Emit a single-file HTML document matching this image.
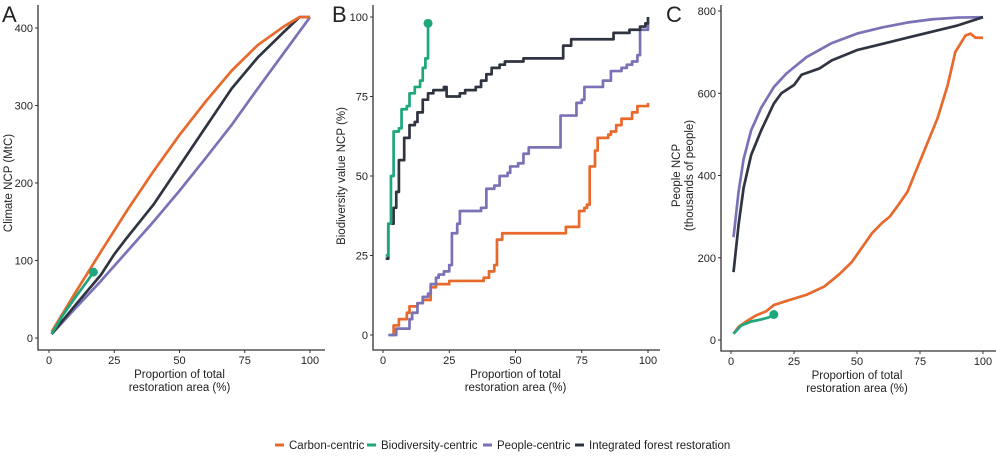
<!DOCTYPE html>
<html><head><meta charset="utf-8"><style>
body{margin:0;background:#fff;font-family:"Liberation Sans",sans-serif}
svg{display:block}
text{font-family:"Liberation Sans",sans-serif;fill:#222}
</style></head><body>
<svg id="c" width="996" height="456"></svg>
<script>
const xTicks=[0,25,50,75,100];
const aTicks=[0,100,200,300,400];
const bTicks=[0,25,50,75,100];
const cTicks=[0,200,400,600,800];
// Panel A
const aCarbon=[[1,8],[10,58],[20,112],[30,165],[40,215],[50,262],[60,305],[70,345],[80,378],[90,402],[96,414],[100,414]];
const aBio=[[1,5],[5,28],[10,52],[15,75],[17,85]];
const aPeople=[[1,5],[10,38],[20,74],[30,112],[40,150],[50,190],[60,232],[70,275],[80,322],[90,368],[100,414]];
const aInt=[[1,5],[10,42],[20,82],[25,108],[30,130],[40,172],[50,222],[60,272],[70,322],[80,362],[90,395],[96,414],[100,414]];
// Panel B
const bCarbon=[[3,0],[4,3],[6,5],[9,7],[10,9],[13,10],[15,11],[18,15],[20,16],[25,17],[38,18],[40,20],[42,22],[43,30],[45,32],[67,32],[69,34],[73,34],[74,39],[76,40],[77,41],[78,53],[80,58],[81,62],[85,63],[86,64],[88,66],[90,68],[94,70],[96,72],[99,72],[100,73]];
const bBio=[[1,25],[2,35],[3,50],[4,64],[6,65],[7,71],[9,72],[10,76],[12,78],[14,80],[15,84],[16,87],[17,98]];
const bPeople=[[2,0],[4,0],[5,2],[9,2],[10,5],[11,7],[13,10],[15,12],[17,13],[18,16],[20,18],[21,19],[23,20],[25,22],[26,32],[28,35],[29,39],[37,40],[39,46],[42,47],[44,50],[47,51],[48,53],[51,54],[53,57],[55,59],[66,59],[67,69],[72,69],[73,73],[75,74],[76,78],[81,78],[83,80],[86,83],[90,84],[92,85],[94,86],[96,88],[97,96],[100,98]];
const bInt=[[1,24],[2,35],[4,40],[5,45],[6,55],[8,62],[10,66],[12,67],[13,70],[15,74],[17,76],[19,77],[22,77],[23,78],[24,75],[29,76],[31,77],[35,78],[37,80],[39,82],[41,84],[44,85],[46,86],[51,86],[53,87],[67,87],[68,91],[70,91],[71,93],[86,93],[87,95],[92,95],[93,96],[97,97],[99,98],[100,100]];
// Panel C
const cCarbon=[[1,15],[3,32],[6,45],[10,60],[14,70],[17,85],[22,95],[30,110],[37,130],[43,160],[48,190],[52,225],[56,260],[60,285],[63,300],[66,325],[70,360],[74,420],[78,480],[82,540],[86,620],[89,700],[93,740],[95,745],[97,735],[100,735]];
const cBio=[[1,15],[4,35],[8,45],[12,50],[15,55],[17,62]];
const cPeople=[[1,250],[3,360],[5,440],[8,510],[12,565],[17,615],[22,648],[30,688],[40,722],[50,745],[60,760],[70,772],[80,780],[90,784],[100,785]];
const cInt=[[1,165],[3,280],[5,370],[8,450],[12,510],[17,575],[20,600],[25,620],[28,645],[35,660],[40,680],[50,705],[60,720],[70,735],[80,750],[90,765],[100,785]];

const COL={carbon:"#e8692c",bio:"#1ea67d",people:"#7a72b6",int:"#2f3441"};
const svg=document.getElementById('c');const NS="http://www.w3.org/2000/svg";
function mk(tag,attrs,parent){const e=document.createElementNS(NS,tag);for(const k in attrs)e.setAttribute(k,attrs[k]);(parent||svg).appendChild(e);return e;}
function panel(cfg){
  const g=mk('g',{});
  
  
  const sx=v=>cfg.x0+(cfg.x1-cfg.x0)*v/100;
  const sy=v=>cfg.y0+(cfg.y1-cfg.y0)*(v/cfg.ymax);
  const ax=mk('path',{d:`M${cfg.axX},5 V${cfg.axY} H${cfg.right}`,stroke:'#333',fill:'none','stroke-width':1.3},g);
  
  
  xTicks.forEach(t=>{mk('line',{x1:sx(t),x2:sx(t),y1:cfg.axY,y2:cfg.axY+3,stroke:'#333'},g);
    const tx=mk('text',{x:sx(t),y:cfg.axY+14,'text-anchor':'middle','font-size':11},g);tx.textContent=t;
    
    });
  cfg.yt.forEach(t=>{mk('line',{x1:cfg.axX-3,x2:cfg.axX,y1:sy(t),y2:sy(t),stroke:'#333'},g);
    const tx=mk('text',{x:cfg.axX-5,y:sy(t)+4,'text-anchor':'end','font-size':11},g);tx.textContent=t;
    
    });
  const cx=(cfg.x0+cfg.x1)/2;
  const t1=mk('text',{x:cx,y:cfg.axY+28,'text-anchor':'middle','font-size':11.5},g);t1.textContent='Proportion of total';
  
  
  const t2=mk('text',{x:cx,y:cfg.axY+41,'text-anchor':'middle','font-size':11.5},g);t2.textContent='restoration area (%)';
  
  
  const my=(cfg.y0+cfg.y1)/2;
  cfg.ytitle.forEach((s,i)=>{const yt=mk('text',{x:0,y:0,'text-anchor':'middle','font-size':11.5,transform:`translate(${cfg.ytx+i*13},${my}) rotate(-90)`},g);yt.textContent=s;
    
    });
  const lt=mk('text',{x:cfg.lx,y:22,'font-size':22},g);lt.textContent=cfg.letter;
  
  
  cfg.series.forEach(s=>{
    let pts=[];
    s.d.forEach((q,i)=>{
      if(cfg.step&&i>0){pts.push(sx(q[0])+','+sy(s.d[i-1][1]));}
      pts.push(sx(q[0])+','+sy(q[1]));
    });
    const p=mk('polyline',{points:pts.join(' '),fill:'none',stroke:COL[s.c],'stroke-width':2.7,'stroke-linejoin':'round'},g);
    
    
    if(s.dot){const l=s.d[s.d.length-1];const c=mk('circle',{cx:sx(l[0]),cy:sy(l[1]),r:4.5,fill:COL[s.c]},g);
      
      }
  });
}
panel({name:'panel-a-climate',letter:'A',lx:2,x0:49,x1:310,y0:338,y1:28,ymax:400,axX:38,axY:350,right:325,yt:aTicks,ytitle:['Climate NCP (MtC)'],ytx:12,
  series:[{d:aPeople,c:'people'},{d:aInt,c:'int'},{d:aCarbon,c:'carbon'},{d:aBio,c:'bio',dot:1}]});
panel({name:'panel-b-biodiversity',letter:'B',lx:332,step:1,x0:383,x1:648,y0:335,y1:17,ymax:100,axX:373,axY:350,right:660,yt:bTicks,ytitle:['Biodiversity value NCP (%)'],ytx:345,
  series:[{d:bCarbon,c:'carbon'},{d:bPeople,c:'people'},{d:bInt,c:'int'},{d:bBio,c:'bio',dot:1}]});
panel({name:'panel-c-people',letter:'C',lx:666,x0:731,x1:983,y0:340,y1:11,ymax:800,axX:721,axY:351,right:996,yt:cTicks,ytitle:['People NCP','(thousands of people)'],ytx:680,
  series:[{d:cCarbon,c:'carbon'},{d:cPeople,c:'people'},{d:cInt,c:'int'},{d:cBio,c:'bio',dot:1}]});
const leg=[['carbon','Carbon-centric',275],['bio','Biodiversity-centric',367],['people','People-centric',483],['int','Integrated forest restoration',575]];
leg.forEach(l=>{const g=mk('g',{});
  
  
  mk('line',{x1:l[2],x2:l[2]+9,y1:445,y2:445,stroke:COL[l[0]],'stroke-width':3},g);
  const t=mk('text',{x:l[2]+14,y:449,'font-size':11.5},g);t.textContent=l[1];});
</script>
</body></html>
